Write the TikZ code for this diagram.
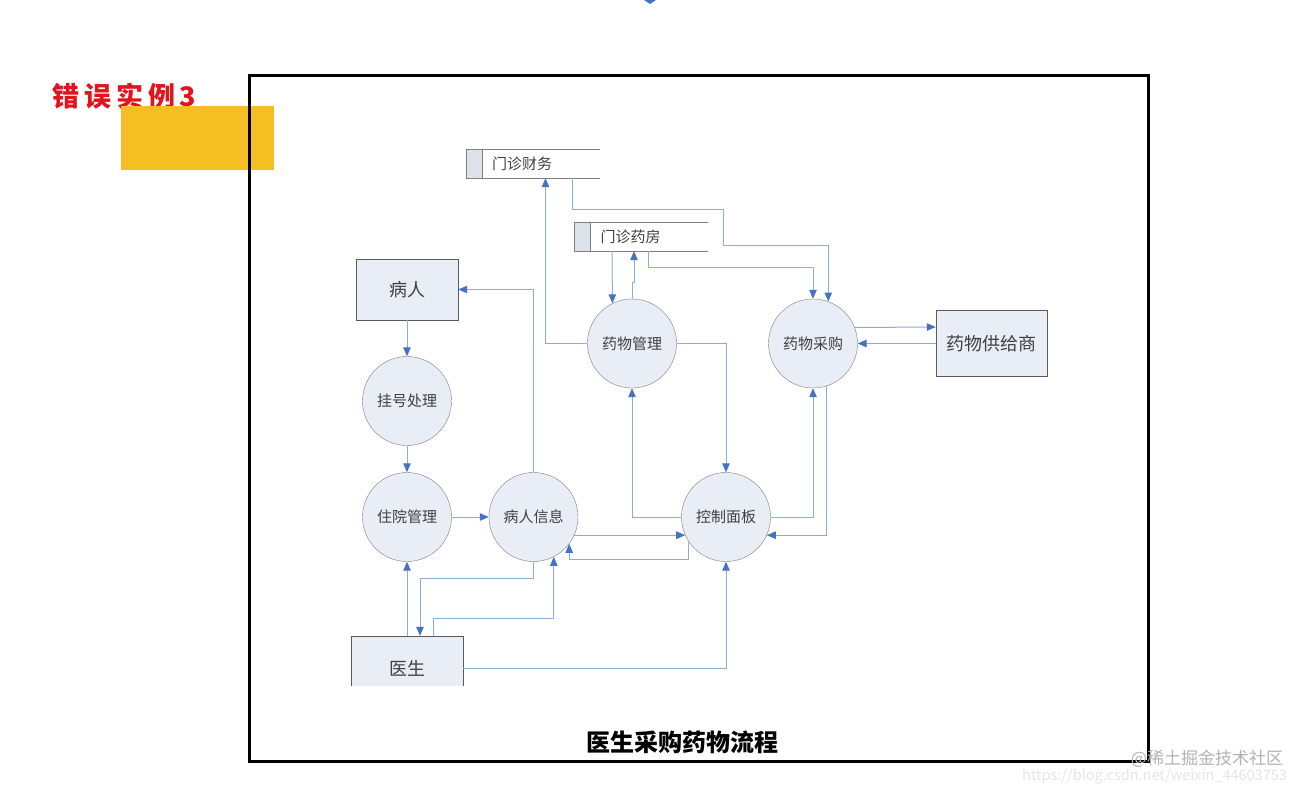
\documentclass[tikz,border=0pt]{standalone}
\usepackage{fontspec}
\setmainfont{Noto Sans CJK SC}
\usetikzlibrary{arrows.meta,positioning}
\definecolor{flowblue}{HTML}{8FAADC}
\definecolor{arrblue}{HTML}{4472C4}
\definecolor{procline}{HTML}{7F7F7F}
\definecolor{procfill}{HTML}{E9EDF5}
\definecolor{entline}{HTML}{595959}
\definecolor{storefill}{HTML}{DDE2EA}
\definecolor{txtgray}{HTML}{404040}
\definecolor{warnred}{HTML}{E3141C}
\definecolor{tagyellow}{HTML}{F5BE23}

\begin{document}
\begin{tikzpicture}[
  x=1pt, y=-1pt,
  proc/.style={circle, draw=procline, fill=procfill, minimum size=89pt, inner sep=0pt, text=txtgray, font=\fontsize{15}{17}\selectfont},
  ent/.style={rectangle, draw=entline, fill=procfill, inner sep=0pt, text=txtgray, font=\fontsize{18}{20}\selectfont},
  store/.style={rectangle, minimum width=133pt, minimum height=28pt, inner sep=0pt},
  storeline/.style={draw=procline, line width=0.8pt},
  storetext/.style={anchor=west, inner sep=0pt, text=txtgray, font=\fontsize{15}{17}\selectfont},
  flow/.style={draw=flowblue, line width=1pt, -{Triangle[length=9pt,width=7.5pt,color=arrblue]}}
]
\useasboundingbox (0,0) rectangle (1310,796);
\node[text=warnred, font=\bfseries\fontsize{27}{29}\selectfont] (tag) at (124.5,96) {错\hspace{5pt}误\hspace{5pt}实\hspace{5pt}例\hspace{4pt}3};
\fill[tagyellow] (121,106) rectangle (274,170);
\draw[line width=3pt] (249,75) rectangle (1148,761);
\fill[arrblue] (644,0) -- (656,0) -- (650,4) -- cycle;

\node[ent, minimum width=102pt, minimum height=61pt] (br) at (407,289.5) {病人};
\node[proc] (ghcl) at (407,401) {挂号处理};
\node[proc] (zygl) at (407,517) {住院管理};
\node[proc] (brxx) at (533.5,517) {病人信息};
\node[proc] (ymgl) at (632,343.5) {药物管理};
\node[proc] (ymcg) at (813,343.5) {药物采购};
\node[proc] (kzmb) at (726,517) {控制面板};
\node[ent, minimum width=111pt, minimum height=66pt] (gys) at (991.5,343.5) {药物供给商};
\node[ent, draw=none, minimum width=112pt, minimum height=50pt] (ys) at (407,661) {};
\draw[entline] (ys.south west) |- (ys.north east) -- (ys.south east);
\node[text=txtgray, font=\fontsize{18}{20}\selectfont] (yst) at (407,668) {医生};

\node[store] (mzcw) at (533.5,164) {};
\draw[storeline] (mzcw.north east) -- (mzcw.north west) -- (mzcw.south west) -- (mzcw.south east);
\draw[storeline, fill=storefill] (mzcw.north west) rectangle ([xshift=16pt]mzcw.south west);
\node[storetext] (mzcwt) at ([xshift=25pt]mzcw.west) {门诊财务};
\node[store] (mzyf) at (641,237) {};
\draw[storeline] (mzyf.north east) -- (mzyf.north west) -- (mzyf.south west) -- (mzyf.south east);
\draw[storeline, fill=storefill] (mzyf.north west) rectangle ([xshift=16pt]mzyf.south west);
\node[storetext] (mzyft) at ([xshift=26pt]mzyf.west) {门诊药房};

\draw[flow] (br) -- (ghcl);
\draw[flow] (ghcl) -- (zygl);
\draw[flow] (zygl) -- (brxx);
\draw[flow] (ys.north) -- (zygl);
\draw[flow] (brxx.south) -- ++(0,17) -| ([xshift=13pt]ys.north);
\draw[flow] ([xshift=26pt]ys.north) -- ++(0,-17) -| (brxx.-63);
\draw[flow] (brxx.-24) -- (kzmb.204);
\draw[flow] (kzmb.214) -- ++(0,17) -| (brxx.-37);
\draw[flow] ([yshift=-7pt]ys.east) -| (kzmb);
\draw[flow] (brxx.north) |- (br.east);
\draw[flow] (kzmb.west) -| (ymgl);
\draw[flow] (ymgl.east) -| (kzmb);
\draw[flow] (ymgl.west) -| ([xshift=12pt]mzcw.south);
\draw[flow] ([xshift=-29pt]mzyf.south) -- (ymgl.116);
\draw[flow] (ymgl.north) -- ++(0,-16) -| ([xshift=-7pt]mzyf.south);
\draw[flow] ([xshift=38.5pt]mzcw.south) -- ++(0,31) -- ++(151,0) -- ++(0,36) -| (ymcg.70.5);
\draw[flow] ([xshift=7pt]mzyf.south) -- ++(0,16) -| (ymcg.north);
\draw[flow] (ymcg.21.5) -- ([yshift=16.5pt]gys.west);
\draw[flow] (gys.west) -- (ymcg);
\draw[flow] (kzmb.east) -| (ymcg);
\draw[flow] (ymcg.-73) |- (kzmb.-24);

\node[font=\bfseries\fontsize{24}{26}\selectfont] (title) at (682,742) {医生采购药物流程};
\node[inner sep=0pt, text=black!30, font=\fontsize{17}{18}\selectfont] (wm) at (1207,758.5) {@稀土掘金技术社区};
\node[inner sep=0pt, anchor=west, text=black!10, font=\fontsize{14.5}{16}\selectfont] (url) at (1022,776.5) {https://blog.csdn.net/weixin\_44603753};
\end{tikzpicture}
\end{document}
